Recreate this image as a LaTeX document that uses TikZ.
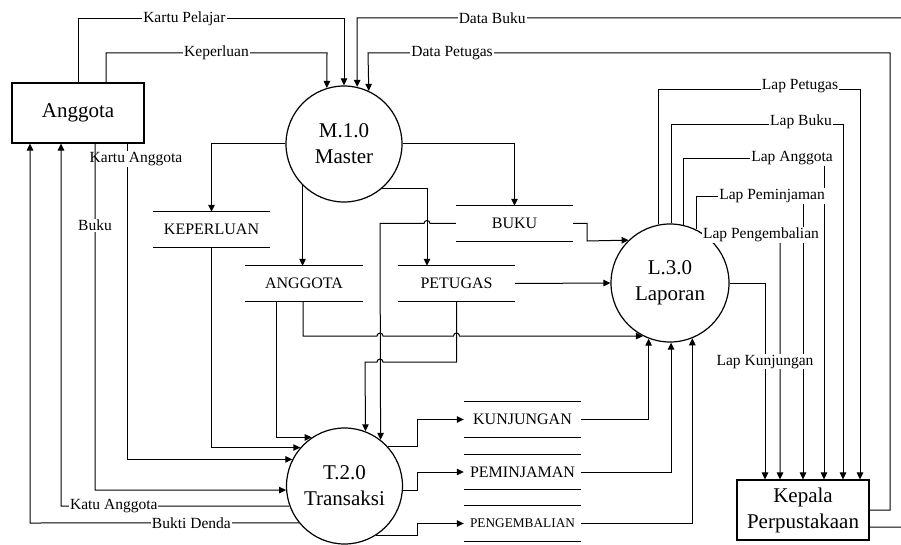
\documentclass[tikz,border=0pt]{standalone}
\usepackage{fontspec}
\setmainfont{Liberation Serif}
\usetikzlibrary{arrows.meta}

\begin{document}
\begin{tikzpicture}[x=1pt,y=-1pt,
  proc/.style={circle, draw, line width=1.2pt, fill=white, minimum size=116pt,
    inner sep=0pt, align=center, font=\fontsize{21}{26}\selectfont},
  ent/.style={rectangle, draw, line width=1.1pt, fill=white, minimum width=132pt,
    minimum height=60pt, inner sep=0pt, align=center, font=\fontsize{21}{26}\selectfont},
  store/.style={minimum width=117pt, minimum height=35pt, inner sep=0pt,
    font=\fontsize{16}{19}\selectfont},
  storeline/.style={line width=1pt},
  flow/.style={line width=1pt, -{Triangle[length=7pt,width=6.5pt]}},
  link/.style={line width=1pt},
  lbl/.style={fill=white, inner sep=1pt, font=\fontsize{15.5}{18}\selectfont},
]
\useasboundingbox (0,0) rectangle (901,545);

% external entities
\node[ent] (ang) at (78,113) {Anggota};
\node[ent] (kep) at (803,510) {Kepala\\Perpustakaan};

% processes
\node[proc] (m) at (344,144) {M.1.0\\Master};
\node[proc, minimum size=118pt] (l) at (670,283) {L.3.0\\Laporan};
\node[proc] (t) at (344.5,486) {T.2.0\\Transaksi};

% data stores
\node[store] (kpl)   at (211.5,229.5) {KEPERLUAN};
\node[store] (sang)  at (304,283.5)   {ANGGOTA};
\node[store] (spet)  at (456.5,283.5) {PETUGAS};
\node[store] (buk)   at (514.5,223.5) {BUKU};
\node[store] (skun)  at (522.5,419.5) {KUNJUNGAN};
\node[store] (spem)  at (522.5,472)   {PEMINJAMAN};
\node[store, font=\fontsize{13.3}{16}\selectfont] (speng) at (522.5,523.5) {PENGEMBALIAN};
\foreach \s in {kpl,sang,spet,buk,skun,spem,speng}
  \draw[storeline] (\s.north west) -- (\s.north east) (\s.south west) -- (\s.south east);

% Anggota -> Master
\draw[flow] (ang.north) -- (78,19) -- node[lbl,pos=0.4]{Kartu Pelajar} (344,19) -- (m.north);
\draw[flow] (ang.north -| 106,0) -- (106,53) -- node[lbl]{Keperluan} (327,53) -- (m.107);

% Kepala Perpustakaan -> Master
\draw[flow] (kep.east |- 0,527) -- (902,527) -- (902,18) -- node[lbl,pos=0.752]{Data Buku} (357,18) -- (m.77.05);
\draw[flow] (kep.east |- 0,510) -- (890,510) -- (890,53) -- node[lbl,pos=0.839]{Data Petugas} (368,53) -- (m.65.56);

% Master -> stores
\draw[flow] (m.west) -| (kpl.north);
\draw[flow] (m.east) -| (buk.north);
\draw[flow] (m.225) -- (m.225 |- sang.north);
\draw[flow] (m.-49.3) -| (spet.north -| 427,0);

% stores -> Laporan
\draw[flow] (buk.east) -| (587,241) -- (l.134.6);
\draw[flow] (spet.east) -- (l.west);
\draw[flow] (sang.south -| 303,0) -- (303,336) -- (377,336)
  arc[start angle=180,end angle=0,radius=3pt] -- (453.5,336)
  arc[start angle=180,end angle=0,radius=3pt] -- (l.243.9);

% stores -> Transaksi
\draw[flow] (buk.west) -- (430,223.5) arc[start angle=0,end angle=180,radius=3pt]
  -- (380,223.5) -- (t.52.26);
\draw[flow] (spet.south) -- (456.5,362) -- (383,362)
  arc[start angle=0,end angle=180,radius=3pt] -- (365,362) -- (t.69.3);
\draw[flow] (sang.south -| 276,0) |- (t.124.1);
\draw[flow] (kpl.south) |- (t.139.1);

% Anggota <-> Transaksi
\draw[flow] (ang.south -| 127,0) |- (t.153.4);
\node[lbl] at (136,159) {Kartu Anggota};
\draw[flow] (ang.south -| 95,0) -- node[lbl,pos=0.236]{Buku} (95,490) -- (t.184);
\draw[flow] (t.200.2) -- node[lbl,pos=0.769]{Katu Anggota} (61,506) -- (ang.south -| 61,0);
\draw[flow] (t.219.6) -- node[lbl,pos=0.4]{Bukti Denda} (30,523) -- (ang.south -| 30,0);

% Transaksi -> stores
\draw[flow] (t.42.3) -| (417,419.5) -- (skun.west);
\draw[flow] (t.-4) -| (417,472) -- (spem.west);
\draw[flow] (t.-57.6) -| (417,523.5) -- (speng.west);

% transaction stores -> Laporan
\draw[flow] (skun.east) -| (l.249.15);
\draw[flow] (spem.east) -| (l.271);
\draw[flow] (speng.east) -| (l.292.94);

% Laporan -> Kepala Perpustakaan
\draw[flow] (l.101.7) |- (860,90) -- (kep.north -| 860,0);
\node[lbl] at (800,86) {Lap Petugas};
\draw[flow] (l.89) |- (843,125) -- (kep.north -| 843,0);
\node[lbl] at (801,122) {Lap Buku};
\draw[flow] (l.77.27) |- (824,159) -- (kep.north -| 824,0);
\node[lbl] at (792,158) {Lap Anggota};
\draw[flow] (l.64.93) |- (803,197) -- (kep.north -| 803,0);
\node[lbl] at (772,196) {Lap Peminjaman};
\draw[flow] (l.52.8) -- (780,236) -- (kep.north -| 780,0);
\node[lbl] at (761,235) {Lap Pengembalian};
\draw[flow] (l.east) -| node[lbl,pos=0.7]{Lap Kunjungan} (kep.north -| 765,0);

\end{tikzpicture}
\end{document}
